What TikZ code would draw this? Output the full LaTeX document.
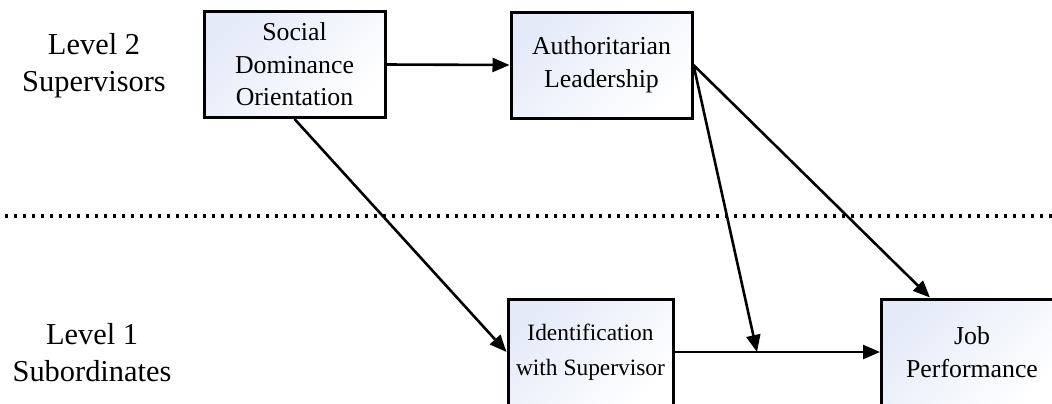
\documentclass[tikz,border=0pt]{standalone}
\usepackage{fontspec}
\setmainfont{Liberation Serif}
\usepackage{tikz}
\usetikzlibrary{arrows.meta}
\definecolor{boxtint}{RGB}{228,234,248}
\tikzset{construct/.style={draw=black,line width=1.5pt,top color=boxtint,bottom color=white,shading angle=45,
    minimum width=90.5pt,minimum height=53pt,inner sep=0pt,align=center,font=\fontsize{12.9}{16.3}\selectfont},
  levellabel/.style={align=center,font=\fontsize{15.2}{18.5}\selectfont},
  link/.style={-{Triangle[length=8.5pt,width=7pt]},line width=1.3pt},
  divider/.style={line width=2pt,dash pattern=on 1.5pt off 3pt}}

\begin{document}
\begin{tikzpicture}[x=0.5pt,y=-0.5pt] % 1 unit = 1 px of the reference
    \clip (0,0) rectangle (1052,403);
    % level labels
    \node[levellabel] (lvtwo) at (94,66) {Level 2\\Supervisors};
    \node[levellabel] (lvone) at (92,353) {Level 1\\Subordinates};
    \draw[divider] (5,216) -- (1052,216); % level boundary
    % constructs
    \node[construct] (sdo) at (294.5,64.5) {Social\\Dominance\\Orientation};
    \node[construct] (auth) at (601.5,65) {Authoritarian\\Leadership};
    \node[construct,minimum width=82.5pt,font=\fontsize{11.7}{17.5}\selectfont] (ident) at (590.5,352) {Identification\\with Supervisor};
    \node[construct] (perf) at (972,352) {Job\\Performance};
    \coordinate (mod) at (757,352);
    % paths
    \draw[link] (sdo.east) -- (auth.west);
    \draw[link] (sdo.south) -- (ident.west);
    \draw[link] (ident.east) -- (perf.west);
    \draw[link] (auth.east) -- (mod);
    \draw[link] (auth.east) -- ([xshift=-21pt]perf.north);
\end{tikzpicture}
\end{document}
